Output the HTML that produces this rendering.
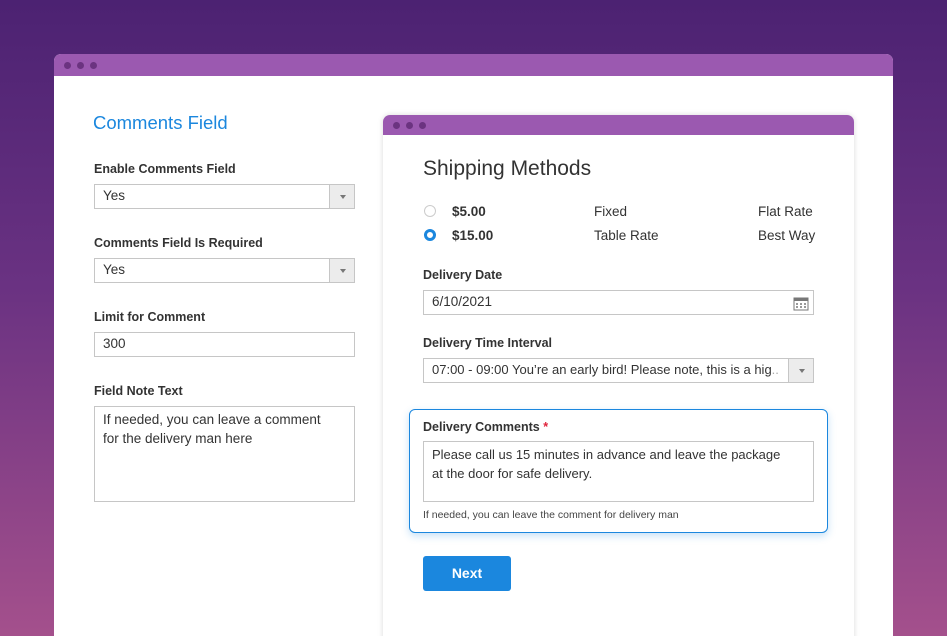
<!DOCTYPE html>
<html style="width:947px;height:636px;overflow:hidden;background:linear-gradient(180deg,#4c2272 0%,#6a3282 45%,#a4508c 100%)"><head><meta charset="utf-8"><style>
*{box-sizing:border-box;margin:0;padding:0}
body{width:947px;height:636px;overflow:hidden;position:relative;font-family:"Liberation Sans",sans-serif;color:#333;
background:linear-gradient(180deg,#4c2272 0%,#6a3282 45%,#a4508c 100%)}
.a{position:absolute}
.win{position:absolute;background:#fff;border-radius:7px 7px 0 0;overflow:hidden}
.tb{height:22px;background:#9b59b0;position:relative}
.dot{position:absolute;top:8px;width:7px;height:7px;border-radius:50%;background:#6b3380}
.lbl{font-size:12.5px;font-weight:bold;color:#333}
.inp{position:absolute;border:1px solid #c6c6c6;background:#fff;font-size:13.5px;padding-left:8px;line-height:22px}
.arr{position:absolute;right:0;top:0;bottom:0;width:25px;background:#ececec;border-left:1px solid #c6c6c6}
.arr:after{content:"";position:absolute;left:10px;top:10px;border:3px solid transparent;border-top:4px solid #777}
.t14{font-size:13.5px}
</style></head><body>
<div class="win" style="left:54px;top:54px;width:839px;height:600px">
 <div class="tb"><div class="dot" style="left:10px"></div><div class="dot" style="left:23px"></div><div class="dot" style="left:36px"></div></div>
</div>
<div class="a" style="left:93px;top:112px;font-size:18.5px;color:#1b87de">Comments Field</div>
<div class="a lbl" style="left:94px;top:162px">Enable Comments Field</div>
<div class="inp" style="left:94px;top:184px;width:261px;height:25px">Yes<div class="arr"></div></div>
<div class="a lbl" style="left:94px;top:236px">Comments Field Is Required</div>
<div class="inp" style="left:94px;top:258px;width:261px;height:25px">Yes<div class="arr"></div></div>
<div class="a lbl" style="left:94px;top:310px">Limit for Comment</div>
<div class="inp" style="left:94px;top:332px;width:261px;height:25px">300</div>
<div class="a lbl" style="left:94px;top:384px">Field Note Text</div>
<div class="inp" style="left:94px;top:406px;width:261px;height:96px;line-height:19px;padding-top:3px">If needed, you can leave a comment<br>for the delivery man here</div>

<div class="win" style="left:383px;top:115px;width:471px;height:540px;box-shadow:0 0 6px rgba(0,0,0,.15)">
 <div class="tb" style="height:20px"><div class="dot" style="left:10px;top:7px"></div><div class="dot" style="left:23px;top:7px"></div><div class="dot" style="left:36px;top:7px"></div></div>
</div>
<div class="a" style="left:423px;top:157px;font-size:21px;color:#333">Shipping Methods</div>
<div class="a" style="left:424px;top:205px;width:12px;height:12px;border:1px solid #ccc;border-radius:50%"></div>
<div class="a" style="left:424px;top:229px;width:12px;height:12px;border:3.5px solid #1b87de;border-radius:50%;background:#fff"></div>
<div class="a t14" style="left:452px;top:204px;font-weight:bold">$5.00</div>
<div class="a t14" style="left:452px;top:228px;font-weight:bold">$15.00</div>
<div class="a t14" style="left:594px;top:204px">Fixed</div>
<div class="a t14" style="left:594px;top:228px">Table Rate</div>
<div class="a t14" style="left:758px;top:204px">Flat Rate</div>
<div class="a t14" style="left:758px;top:228px">Best Way</div>
<div class="a lbl" style="left:423px;top:268px">Delivery Date</div>
<div class="inp" style="left:423px;top:290px;width:391px;height:25px">6/10/2021
 <svg class="a" style="right:4px;top:5px" width="16" height="15"><rect x="1" y="2" width="14" height="12" fill="none" stroke="#777"/><rect x="1" y="2" width="14" height="3" fill="#777"/><g fill="#999"><rect x="3" y="7" width="2" height="2"/><rect x="7" y="7" width="2" height="2"/><rect x="11" y="7" width="2" height="2"/><rect x="3" y="10" width="2" height="2"/><rect x="7" y="10" width="2" height="2"/><rect x="11" y="10" width="2" height="2"/></g></svg>
</div>
<div class="a lbl" style="left:423px;top:336px">Delivery Time Interval</div>
<div class="inp" style="left:423px;top:358px;width:391px;height:25px;overflow:hidden;white-space:nowrap;color:#333;font-size:13px">07:00 - 09:00 You’re an early bird! Please note, this is a hig<span style="color:#aaa">..</span><div class="arr"></div></div>
<div class="a" style="left:409px;top:409px;width:419px;height:124px;border:1px solid #1b87de;border-radius:6px;background:#fff;box-shadow:0 3px 8px rgba(27,135,222,.25)"></div>
<div class="a lbl" style="left:423px;top:420px">Delivery Comments <span style="color:#e0223a">*</span></div>
<div class="inp" style="left:423px;top:441px;width:391px;height:61px;line-height:19px;padding-top:3px;font-size:13px">Please call us 15 minutes in advance and leave the package<br>at the door for safe delivery.</div>
<div class="a" style="left:423px;top:509px;font-size:10.5px;color:#444">If needed, you can leave the comment for delivery man</div>
<div class="a" style="left:423px;top:556px;width:88px;height:35px;background:#1b87de;border-radius:3px;color:#fff;font-weight:bold;font-size:14px;text-align:center;line-height:35px">Next</div>
</body></html>
